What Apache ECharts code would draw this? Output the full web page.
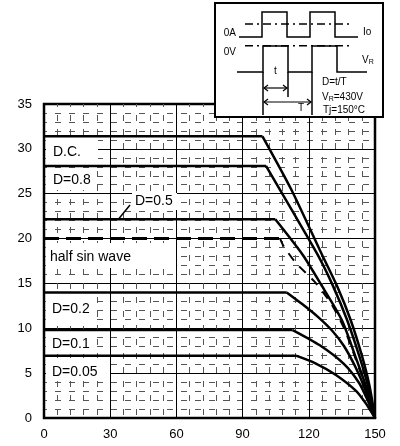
<!DOCTYPE html>
<html><head><meta charset="utf-8">
<script src="https://cdn.jsdelivr.net/npm/echarts@6/dist/echarts.min.js"></script>
<style>html,body{margin:0;padding:0;background:#fff}#c{width:400px;height:446px}</style>
</head><body><div id="c"></div>
<script>
// Data (x: case temperature, y: current). First two points = flat part, rest = derating curve.
var xTicks = [0, 30, 60, 90, 120, 150];
var yTicks = [0, 5, 10, 15, 20, 25, 30, 35];

var dcX  = [0, 99, 112, 126, 133, 139, 144, 147.5, 150];
var dcY  = [31.4, 31.4, 25.5, 18.2, 14.6, 10.9, 7.0, 3.6, 0];

var d08X = [0, 100.6, 112, 124, 131, 137.4, 143, 147, 150];
var d08Y = [28.1, 28.1, 23.3, 18.2, 14.7, 10.9, 6.8, 3.4, 0];

var d05X = [0, 104.8, 117.2, 126, 135, 141.5, 146.5, 150];
var d05Y = [22.15, 22.15, 18.2, 14.7, 10.9, 6.6, 3.1, 0];

var hsX = [0, 107, 108.5, 114.1, 122.6, 130, 136, 141.5, 146.5, 150];
var hsY = [20, 20, 19.2, 17.3, 15.2, 12.8, 10.0, 6.4, 3.0, 0];

var d02X = [0, 110, 117, 124, 130.7, 136, 141.3, 145.5, 150];
var d02Y = [14, 14, 12.7, 11.3, 9.7, 8.0, 5.6, 3.2, 0];

var d01X = [0, 112.7, 125, 136, 142.8, 146.8, 150];
var d01Y = [9.8, 9.8, 8.1, 6.0, 3.9, 1.9, 0];

var d005X = [0, 114.2, 123, 132.3, 141.5, 146.5, 150];
var d005Y = [6.95, 6.95, 6.1, 4.8, 3.0, 1.4, 0];

function pts(xs, ys, from, to){ var r=[]; for(var i=from;i<to;i++) r.push([xs[i], ys[i]]); return r; }

var chart = echarts.init(document.getElementById('c'), null, {renderer:'canvas'});
var FONT = 'Liberation Sans, Arial, sans-serif';
function pair(name, xs, ys, flatStyle, curveStyle){
  var base = {color:'#000', width:2.5};
  return [
    {name:name, type:'line', data:pts(xs,ys,0,2), symbol:'none', z:5, animation:false,
      lineStyle:Object.assign({}, base, flatStyle||{})},
    {name:name+' curve', type:'line', data:pts(xs,ys,1,xs.length), symbol:'none', z:5, animation:false,
      smooth:0.25,
      lineStyle:Object.assign({}, base, curveStyle||{})}
  ];
}
function box(x,y,w,h){ return {type:'rect', shape:{x:x,y:y,width:w,height:h}, style:{fill:'#fff'}, z:3, silent:true}; }
function txt(x,y,s,size,align,z){ return {type:'text', x:x, y:y, z:z||6, style:{text:s, fill:'#000', font: (size||14)+'px '+FONT, textAlign:align||'left', textVerticalAlign:'middle'}}; }
function seg(x1,y1,x2,y2,w,dash){ return {type:'line', shape:{x1:x1,y1:y1,x2:x2,y2:y2}, z:21, style:{stroke:'#000', lineWidth:w||1.5, lineDash:dash||null}}; }
function pl(points,w){ return {type:'polyline', shape:{points:points}, z:21, style:{stroke:'#000', fill:null, lineWidth:w||1.5}}; }

var series = [].concat(
  pair('D.C.', dcX, dcY),
  pair('D=0.8', d08X, d08Y),
  pair('D=0.5', d05X, d05Y),
  pair('half sin wave', hsX, hsY, {width:3, type:[15,7]}, {width:2, type:[9,8]}),
  pair('D=0.2', d02X, d02Y),
  pair('D=0.1', d01X, d01Y),
  pair('D=0.05', d005X, d005Y)
);

var option = {
  animation:false,
  backgroundColor:'#fff',
  grid:{left:44, right:25, top:104, bottom:28, show:true, borderColor:'#000', borderWidth:2.5, backgroundColor:'transparent'},
  xAxis:{type:'value', min:0, max:150, interval:30,
    axisLine:{show:false}, axisTick:{show:false},
    axisLabel:{color:'#000', fontSize:13, fontFamily:FONT, margin:10},
    splitLine:{show:true, lineStyle:{color:'#000', width:1}},
    minorTick:{show:false, splitNumber:5},
    minorSplitLine:{show:true, lineStyle:{color:'#555', width:1, type:[6,8], dashOffset:3}}
  },
  yAxis:{type:'value', min:0, max:35, interval:5,
    axisLine:{show:false}, axisTick:{show:false},
    axisLabel:{color:'#000', fontSize:13, fontFamily:FONT, margin:12},
    splitLine:{show:true, lineStyle:{color:'#000', width:1}},
    minorTick:{show:false, splitNumber:5},
    minorSplitLine:{show:true, lineStyle:{color:'#555', width:1, type:[6,8], dashOffset:3}}
  },
  series:series,
  graphic:[
    box(46,138,52,27), txt(53,152,'D.C.'),
    box(46,168,51,22), txt(53,180.5,'D=0.8'),
    box(132,193,45,17), txt(135,201,'D=0.5'),
    {type:'line', shape:{x1:119,y1:218.5,x2:130,y2:205}, z:6, style:{stroke:'#000', lineWidth:1.5}},
    box(46,243,129,25), txt(50,257,'half sin wave'),
    box(46,294,50,32), txt(52,309,'D=0.2'),
    box(46,332,50,22), txt(52,344,'D=0.1'),
    box(46,358,64,22), txt(52,372,'D=0.05'),
    // inset diagram
    {type:'rect', shape:{x:215,y:3,width:168,height:114}, z:20, style:{fill:'#fff', stroke:'#000', lineWidth:2}},
    seg(245,24,353,24,1.5,[8,4,2,4]),
    seg(245,45.7,353,45.7,1.5,[8,4,2,4]),
    pl([[239,37],[262,37],[262,12],[287,12],[287,37],[310,37],[310,12],[335,12],[335,37],[358,37]]),
    pl([[237,72],[263,72],[263,46],[288,46],[288,72],[312,72],[312,46],[337,46],[337,72],[367,72]]),
    seg(263,72,263,115), seg(288,72,288,97), seg(312,72,312,115),
    seg(264,88,287,88,1.2), pl([[268,85],[264,88],[268,91]],1.2), pl([[283,85],[287,88],[283,91]],1.2),
    seg(264,102,311,102,1.2), pl([[268,99],[264,102],[268,105]],1.2), pl([[307,99],[311,102],[307,105]],1.2),
    txt(236,33,'0A',10,'right',22), txt(236,52,'0V',10,'right',22),
    txt(363,32,'Io',10,'left',22),
    {type:'text', x:362, y:60, z:22, style:{text:'{a|V}{b|R}', fill:'#000', textVerticalAlign:'middle',
      rich:{a:{fontSize:10, fontFamily:FONT, fill:'#000'}, b:{fontSize:7, fontFamily:FONT, fill:'#000', verticalAlign:'bottom', padding:[5,0,0,0]}}}},
    txt(274,71,'t',10,'left',22), txt(298,108,'T',10,'left',22),
    txt(322,82,'D=t/T',10,'left',22),
    {type:'text', x:322, y:97, z:22, style:{text:'{a|V}{b|R}{a|=430V}', fill:'#000', textVerticalAlign:'middle',
      rich:{a:{fontSize:10, fontFamily:FONT, fill:'#000'}, b:{fontSize:7, fontFamily:FONT, fill:'#000', verticalAlign:'bottom', padding:[5,0,0,0]}}}},
    txt(323,110,'Tj=150°C',10,'left',22)
  ]
};
chart.setOption(option);
</script></body></html>
